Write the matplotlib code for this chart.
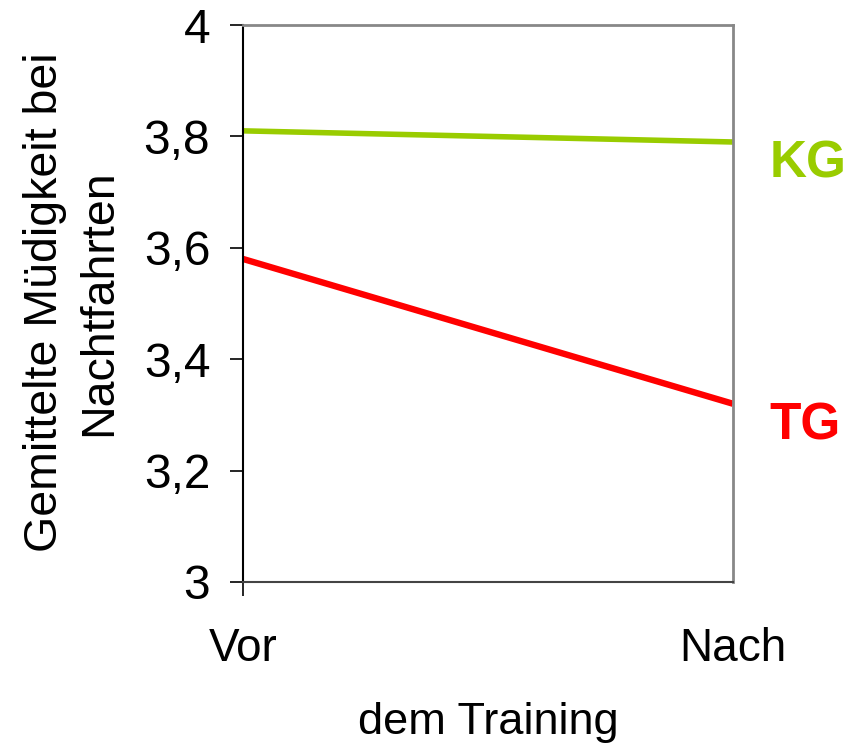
import matplotlib
matplotlib.use("Agg")
import matplotlib.pyplot as plt

categories = ["Vor", "Nach"]
kg_values = [3.81, 3.79]
tg_values = [3.58, 3.32]
yticks = [3.0, 3.2, 3.4, 3.6, 3.8, 4.0]
ytick_labels = ["3", "3,2", "3,4", "3,6", "3,8", "4"]

plt.rcParams['font.family'] = ['Liberation Sans', 'DejaVu Sans']

fig = plt.figure(figsize=(8.61, 7.47), dpi=100)
ax = fig.add_axes([0.2822, 0.2209, 0.5691, 0.7456])

x = list(range(len(categories)))
ax.plot(x, kg_values, color="#99CC00", lw=4.0, solid_capstyle="butt")
ax.plot(x, tg_values, color="#FF0000", lw=4.6, solid_capstyle="butt")

ax.set_xlim(0, 1)
ax.set_ylim(3, 4)
ax.set_yticks(yticks)
ax.set_yticklabels(ytick_labels, fontsize=34.5)
ax.set_xticks([0])
ax.set_xticklabels([""])
ax.tick_params(axis="y", direction="out", length=9.5, width=1.2, pad=14, colors="black")
ax.tick_params(axis="x", direction="out", length=10, width=1.2)

for i, c in enumerate(categories):
    ax.text(x[i], -0.12, c, transform=ax.get_xaxis_transform(), ha="center", va="center", fontsize=33)

ax.spines["left"].set_color("black")
ax.spines["left"].set_linewidth(1.5)
ax.spines["bottom"].set_color("#444444")
ax.spines["bottom"].set_linewidth(1.5)
ax.spines["top"].set_color("#888888")
ax.spines["top"].set_linewidth(2)
ax.spines["right"].set_color("#888888")
ax.spines["right"].set_linewidth(2)

ax.text(1.075, kg_values[-1] - 0.04, "KG", color="#99CC00", fontsize=37, fontweight="bold",
        ha="left", va="center", transform=ax.transData, clip_on=False)
ax.text(1.075, tg_values[-1] - 0.04, "TG", color="#FF0000", fontsize=37, fontweight="bold",
        ha="left", va="center", transform=ax.transData, clip_on=False)

fig.text(0.567, 0.033, "dem Training", ha="center", va="center", fontsize=32.5)
fig.text(0.084, 0.595, "Gemittelte Müdigkeit bei\nNachtfahrten", ha="center", va="center",
         rotation=90, fontsize=33.5, linespacing=1.3)

fig.savefig("out.png", dpi=100)
